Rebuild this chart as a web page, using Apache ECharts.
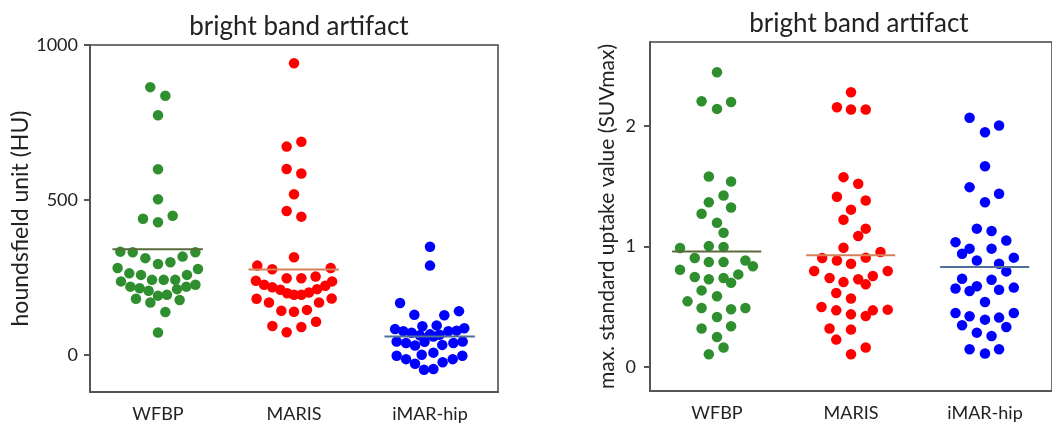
<!DOCTYPE html>
<html>
<head>
  <meta charset="utf-8">
  <title>bright band artifact</title>
  <script src="https://cdn.jsdelivr.net/npm/echarts@6/dist/echarts.min.js"></script>
  <style>
    html, body { margin: 0; padding: 0; background: #fff; }
    #chart { width: 1052px; height: 429px; }
  </style>
</head>
<body>
<div id="chart"></div>
<script>
  // groups on the x axis
  let groups = ['WFBP', 'MARIS', 'iMAR-hip'];

  // left panel: houndsfield unit, each point = [horizontal jitter, value]
  let huWfbp = [
    [-0.057, 864], [0.054, 836], [0, 773], [0, 599], [0, 502], [-0.11, 439], [0, 428], [0.108, 449],
    [-0.277, 333], [-0.186, 331], [-0.093, 312], [0, 293], [0.091, 299], [0.181, 317], [0.275, 331],
    [-0.297, 280], [-0.211, 263], [-0.125, 258], [-0.044, 242], [0.042, 242], [0.127, 242], [0.213, 258], [0.294, 277],
    [-0.272, 237], [-0.203, 220], [-0.135, 215], [-0.069, 207], [0, 191], [0.066, 194], [0.14, 212], [0.208, 220], [0.275, 226],
    [-0.162, 181], [-0.056, 169], [0.159, 177], [0.054, 138], [0, 72]
  ];
  let huMaris = [
    [0, 941], [-0.054, 672], [0.054, 688], [-0.054, 600], [0.054, 585], [0, 518], [-0.054, 464], [0.054, 446], [0, 315],
    [-0.27, 288], [-0.16, 276], [0.27, 280],
    [-0.054, 247], [0.054, 247], [0.159, 253],
    [-0.28, 239], [-0.22, 226], [-0.16, 218], [-0.10, 210], [-0.05, 199], [0, 194], [0.054, 194], [0.11, 201], [0.17, 212], [0.23, 223], [0.28, 237],
    [-0.275, 181], [-0.184, 169], [-0.093, 142], [0, 139], [0.095, 145], [0.184, 169], [0.277, 182],
    [-0.159, 93], [-0.054, 73], [0.054, 90], [0.162, 107]
  ];
  let huImar = [
    [0, 349], [0, 288], [-0.22, 167], [-0.115, 129], [0.105, 128], [0.213, 141],
    [-0.257, 83], [-0.196, 76], [-0.135, 71], [-0.056, 92], [0.049, 95], [0.135, 76], [0.196, 78], [0.252, 86], [0, 66], [-0.075, 63], [0.07, 65],
    [-0.245, 43], [-0.176, 38], [-0.11, 30], [-0.04, 42], [0.025, 59], [0.09, 32], [0.172, 38], [0.24, 43],
    [-0.245, -3], [-0.176, -14], [-0.11, -29], [-0.044, -48], [0.025, -46], [0.093, -24], [0.167, -14], [0.238, -3], [-0.061, 0], [0.025, 7]
  ];
  let huMedians = [341, 275, 59];
  let huTicks = [0, 500, 1000];

  // right panel: SUVmax
  let suvWfbp = [
    [0, 2.448], [-0.115, 2.207], [0, 2.144], [0.105, 2.202],
    [-0.061, 1.583], [0.105, 1.541], [0.049, 1.425], [-0.061, 1.369], [0.105, 1.325], [-0.115, 1.273], [0, 1.198], [0.049, 1.115],
    [-0.276, 0.988], [-0.061, 1.004], [0.049, 0.996],
    [-0.166, 0.905], [-0.061, 0.871], [0.049, 0.871], [0.212, 0.885], [0.268, 0.836],
    [-0.276, 0.808], [-0.166, 0.747], [-0.061, 0.728], [0.049, 0.739], [0.105, 0.700], [0.159, 0.769],
    [-0.115, 0.636], [0, 0.587], [-0.22, 0.545],
    [-0.115, 0.490], [0.105, 0.479], [0.212, 0.490],
    [0, 0.415], [-0.115, 0.319], [0.105, 0.338], [0, 0.249], [0.049, 0.161], [-0.061, 0.105]
  ];
  let suvMaris = [
    [0, 2.282], [-0.105, 2.158], [0, 2.139], [0.11, 2.139],
    [-0.056, 1.577], [0.054, 1.522], [-0.105, 1.414], [0.11, 1.383], [0, 1.307],
    [-0.056, 1.223], [0.11, 1.149], [0.054, 1.088],
    [-0.056, 0.991], [0.22, 0.955], [0.11, 0.908], [-0.105, 0.885], [0, 0.858], [-0.215, 0.905],
    [0.274, 0.797], [0.163, 0.755], [0.054, 0.728], [0.11, 0.686], [-0.056, 0.705], [-0.275, 0.797], [-0.16, 0.739],
    [-0.11, 0.614], [0, 0.568],
    [-0.22, 0.498], [-0.11, 0.470], [0, 0.437], [0.11, 0.423], [0.163, 0.470], [0.274, 0.476],
    [-0.16, 0.319], [0, 0.310], [-0.11, 0.227], [0.11, 0.161], [0, 0.105]
  ];
  let suvImar = [
    [-0.115, 2.070], [0, 1.950], [0.105, 2.006], [0, 1.668], [-0.115, 1.494], [0.105, 1.439], [0, 1.369],
    [-0.061, 1.149], [0.049, 1.129], [-0.22, 1.037], [0.159, 1.051], [-0.115, 0.983], [0.049, 0.983], [-0.171, 0.941], [-0.061, 0.885], [0.215, 0.908], [0.105, 0.858],
    [0.159, 0.794], [-0.171, 0.733], [0.049, 0.725],
    [-0.22, 0.651], [-0.115, 0.631], [-0.061, 0.670], [0.105, 0.642], [0.215, 0.659],
    [0, 0.539],
    [-0.22, 0.448], [-0.115, 0.421], [0, 0.393], [0.105, 0.410], [0.215, 0.448],
    [-0.171, 0.346], [0.159, 0.332], [-0.061, 0.285], [0.049, 0.257],
    [-0.115, 0.147], [0, 0.111], [0.105, 0.147]
  ];
  let suvMedians = [0.96, 0.927, 0.83];
  let suvTicks = [0, 1, 2];

  let dotColors = ['#2f8f2f', '#ff0000', '#0000ff'];
  let medianColors = ['#5a6b3a', '#d9805a', '#4f6f9a'];
  let font = 'Lato';
  let axisColor = '#555';

  let myChart = echarts.init(document.getElementById('chart'));

  // one panel = category axis (labels, ticks) + hidden value axis for jittered dots
  function panelAxes(gridIndex, yMin, yMax, ticks, yName, nameGap, nameSize, labelMargin) {
    let x = [
      {
        type: 'category', gridIndex: gridIndex, data: groups, position: 'bottom',
        axisLine: { onZero: false, lineStyle: { color: axisColor, width: 2 } },
        axisTick: { alignWithLabel: true, length: 6, lineStyle: { color: axisColor, width: 2 } },
        axisLabel: { color: '#222', fontSize: 18, fontFamily: font, margin: 13 }
      },
      {
        type: 'value', gridIndex: gridIndex, min: 0.5, max: 3.5, show: false,
        splitLine: { show: false }
      }
    ];
    let y = {
      type: 'value', gridIndex: gridIndex, min: yMin, max: yMax,
      name: yName, nameLocation: 'middle', nameGap: nameGap,
      nameTextStyle: { color: '#222', fontSize: nameSize, fontFamily: font },
      axisLine: { show: true, lineStyle: { color: axisColor, width: 2 } },
      axisTick: { show: true, length: 6, customValues: ticks, lineStyle: { color: axisColor, width: 2 } },
      axisLabel: {
        color: '#222', fontSize: 18, fontFamily: font, margin: labelMargin, customValues: ticks,
        formatter: function (v) { return String(v); }
      },
      splitLine: { show: false }
    };
    return { x: x, y: y };
  }

  function panelSeries(gridIndex, sets, medians) {
    let out = [];
    sets.forEach(function (pts, i) {
      out.push({
        type: 'scatter', xAxisIndex: gridIndex * 2 + 1, yAxisIndex: gridIndex,
        symbolSize: 10.5, itemStyle: { color: dotColors[i], opacity: 1 },
        data: pts.map(function (p) { return [i + 1 + p[0], p[1]]; })
      });
      out.push({
        type: 'line', xAxisIndex: gridIndex * 2 + 1, yAxisIndex: gridIndex,
        symbol: 'none', z: 5,
        lineStyle: { color: medianColors[i], width: 2 },
        data: [[i + 1 - 0.335, medians[i]], [i + 1 + 0.33, medians[i]]]
      });
    });
    return out;
  }

  let left = panelAxes(0, -120, 1000, huTicks, 'houndsfield unit (HU)', 55, 23, 12);
  let right = panelAxes(1, -0.2, 2.7, suvTicks, 'max. standard uptake value (SUVmax)', 32, 21, 14);

  let option = {
    animation: false,
    title: [
      { text: 'bright band artifact', left: 294, top: 9, textAlign: 'center',
        textStyle: { fontFamily: font, fontSize: 26, fontWeight: 'normal', color: '#222' } },
      { text: 'bright band artifact', left: 854, top: 6, textAlign: 'center',
        textStyle: { fontFamily: font, fontSize: 26, fontWeight: 'normal', color: '#222' } }
    ],
    grid: [
      { left: 90, top: 45, width: 408, height: 347, show: true, borderColor: '#444', borderWidth: 1.5 },
      { left: 650, top: 42, width: 410, height: 349, show: true, borderColor: '#444', borderWidth: 1.5 }
    ],
    xAxis: left.x.concat(right.x),
    yAxis: [left.y, right.y],
    series: panelSeries(0, [huWfbp, huMaris, huImar], huMedians)
      .concat(panelSeries(1, [suvWfbp, suvMaris, suvImar], suvMedians))
  };
  myChart.setOption(option);
</script>
</body>
</html>
